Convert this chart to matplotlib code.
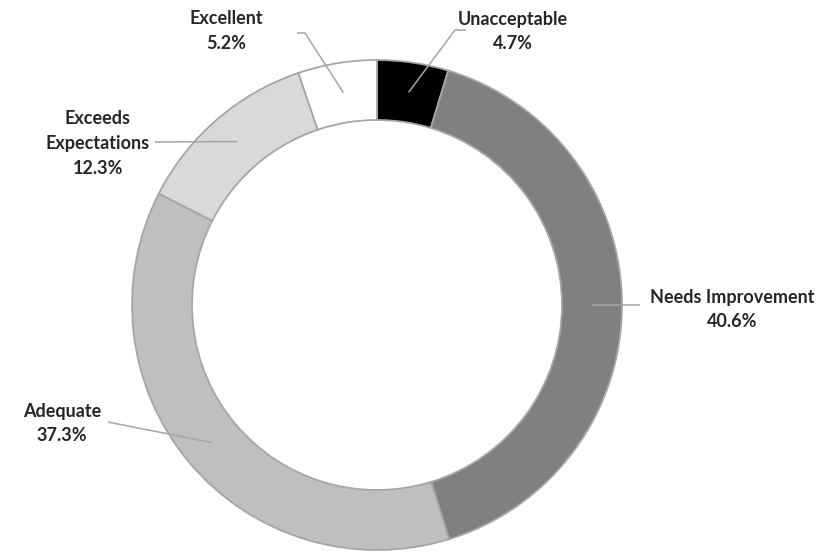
import numpy as np
import matplotlib.pyplot as plt

# rating shares, clockwise from 12 o'clock
labels = ['Unacceptable', 'Needs Improvement', 'Adequate', 'Exceeds\nExpectations', 'Excellent']
shares = [4.7, 40.6, 37.3, 12.3, 5.2]
colors = ['#000000', '#808080', '#bfbfbf', '#d9d9d9', '#ffffff']

W, H = 834, 552
cx, cy = 377, H - 305
r_out, ring = 245, 60

fig = plt.figure(figsize=(W / 100, H / 100), dpi=100)
ax = fig.add_axes([0, 0, 1, 1])
ax.set_xlim(0, W)
ax.set_ylim(0, H)
ax.set_aspect('equal')
ax.axis('off')

wedges, _ = ax.pie(shares, colors=colors, startangle=90, counterclock=False,
                   center=(cx, cy), radius=r_out,
                   wedgeprops=dict(width=ring, edgecolor='#a6a6a6', linewidth=1.3))
ax.set_xlim(0, W)
ax.set_ylim(0, H)

# label text centre (first line) and the leader-line end next to it
lab_pos = [(513, 19), (732, 297), (62, 411), (98, 119), (226, 19)]
elbows = [[(455, 30), (466, 30)],
          [(640, 305)],
          [(108, 422)],
          [(155, 142)],
          [(305, 33), (297, 33)]]
line_gap = 24.5

r_mid = r_out - ring / 2
cum = np.cumsum([0] + shares)
for i, (lab, val) in enumerate(zip(labels, shares)):
    mid = (cum[i] + cum[i + 1]) / 2 / 100 * 2 * np.pi
    ax_ = cx + r_mid * np.sin(mid)
    ay_ = cy + r_mid * np.cos(mid)
    xs = [ax_] + [p[0] for p in elbows[i]]
    ys = [ay_] + [H - p[1] for p in elbows[i]]
    ax.plot(xs, ys, color='#a6a6a6', lw=1.1, solid_capstyle='butt')
    tx, ty = lab_pos[i]
    lines = lab.split('\n') + [f'{val:.1f}%']
    for k, s in enumerate(lines):
        ax.text(tx, H - (ty + k * line_gap), s, ha='center', va='center',
                fontsize=13, fontweight='bold', family='Lato', color='#262626')

fig.savefig('out.png', dpi=100)
